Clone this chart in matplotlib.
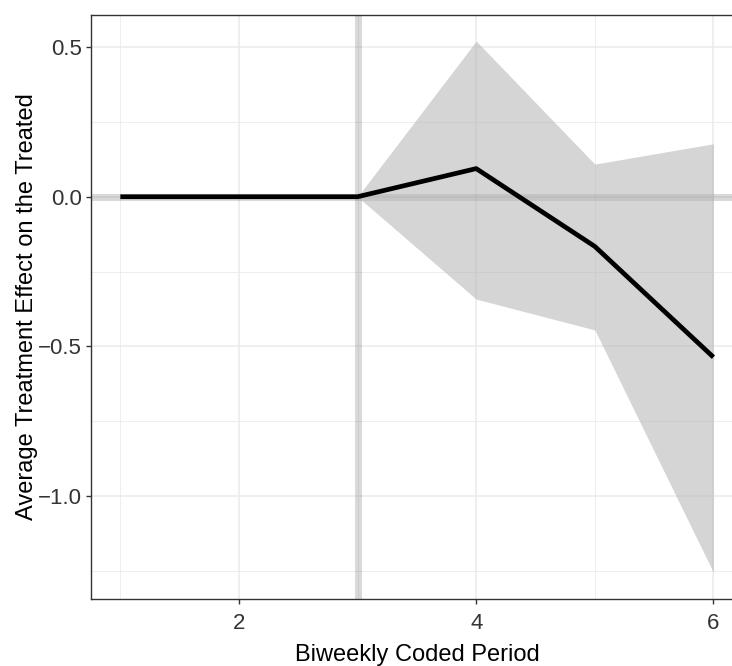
import matplotlib
matplotlib.use("Agg")
import matplotlib.pyplot as plt
import numpy as np

plt.rcParams["font.family"] = ["Liberation Sans", "DejaVu Sans"]

# Event-study estimates by biweekly period
period = [1, 2, 3, 4, 5, 6]
att = [0.0, 0.0, 0.0, 0.094, -0.166, -0.536]
ci_lower = [0.0, 0.0, 0.0, -0.342, -0.445, -1.255]
ci_upper = [0.0, 0.0, 0.0, 0.520, 0.109, 0.177]
treatment_start = 3
x_ticks = [2, 4, 6]
y_ticks = [-1.0, -0.5, 0.0, 0.5]

W, H = 732, 666
fig = plt.figure(figsize=(W / 100, H / 100), dpi=100)
ax_l, ax_r, ax_t, ax_b = 90.7, 743.1, 14.5, 599.0
ax = fig.add_axes([ax_l / W, 1 - ax_b / H, (ax_r - ax_l) / W, (ax_b - ax_t) / H])

# ggplot-like 5% expansion of the data range
xr = max(period) - min(period)
ax.set_xlim(min(period) - 0.05 * xr, max(period) + 0.05 * xr)
ymin, ymax = min(ci_lower), max(ci_upper)
yr = ymax - ymin
ax.set_ylim(ymin - 0.05 * yr, ymax + 0.05 * yr)

# grid: major + minor in gray92
grid_col = "#ebebeb"
ax.set_xticks(x_ticks)
ax.set_yticks(y_ticks)
ax.set_xticks([1, 3, 5], minor=True)
ax.set_yticks([-1.25, -0.75, -0.25, 0.25], minor=True)
ax.grid(which="major", color=grid_col, linewidth=1.1, zorder=0)
ax.grid(which="minor", color=grid_col, linewidth=0.6, zorder=0)
ax.set_axisbelow(True)
ax.tick_params(which="minor", length=0)
ax.tick_params(which="major", length=3.6, width=1.0, color="#333333",
               labelsize=16, labelcolor="#333333")
ax.tick_params(axis="x", pad=6.5)
ax.tick_params(axis="y", pad=2.5)
ax.set_xticklabels([f"{v:g}" for v in x_ticks])
ax.set_yticklabels([f"{v:.1f}".replace("-", "\u2212") for v in y_ticks])

# reference lines
ax.axhline(0, color="#525252", alpha=0.22, linewidth=5.0, zorder=1)
ax.axvline(treatment_start, color="#525252", alpha=0.22, linewidth=5.0, zorder=1)

# confidence band and estimate line
ax.fill_between(period, ci_lower, ci_upper, color="#b3b3b3", alpha=0.55,
                linewidth=0, zorder=2)
ax.plot(period, att, color="black", linewidth=3.4, solid_capstyle="butt",
        solid_joinstyle="round", zorder=3)

for side in ["left", "bottom", "top"]:
    ax.spines[side].set_color("#333333")
    ax.spines[side].set_linewidth(1.0)
ax.spines["right"].set_visible(False)

ax.set_xlabel("Biweekly Coded Period", fontsize=17, color="black", va="baseline")
ax.xaxis.set_label_coords(0.5, (ax_b - 661.5) / (ax_b - ax_t))
ax.set_ylabel("Average Treatment Effect on the Treated", fontsize=17,
              color="black", va="baseline")
ax.yaxis.set_label_coords((33.0 - ax_l) / (ax_r - ax_l), 0.5)

fig.savefig("out.png", dpi=100)
